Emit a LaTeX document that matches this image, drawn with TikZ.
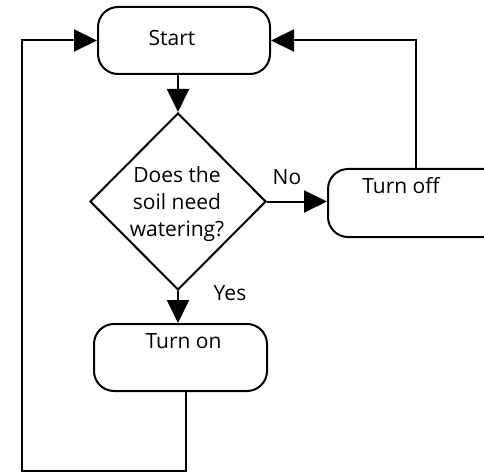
\documentclass[tikz,border=0pt]{standalone}
\usepackage{fontspec}
\setmainfont{Open Sans}
\usetikzlibrary{arrows.meta,shapes.geometric}
\begin{document}
\begin{tikzpicture}[x=1pt,y=-1pt,
  font=\fontsize{21}{27}\selectfont,
  line width=2pt,
  box/.style={draw, rounded corners=20pt, inner sep=0pt},
  dec/.style={draw, diamond, inner sep=0pt, minimum width=176pt, minimum height=177pt, align=center},
  arr/.style={-{Triangle[length=23pt,width=22pt]}},
  lbl/.style={inner sep=0pt}]
\clip (0,0) rectangle (484,473);
\node[box, minimum width=172pt, minimum height=67pt] (start) at (184,40.5) {};
\node[lbl] (starttxt) at (172,38) {Start};
\node[dec] (dia) at (178,201.5) {};
\node[lbl, align=center] (diatxt) at (177,204) {Does the\\soil need\\watering?};
\node[box, minimum width=192pt, minimum height=68pt] (off) at (424,203) {};
\node[lbl] (offtxt) at (401,186) {Turn off};
\node[box, minimum width=173pt, minimum height=67pt] (on) at (180.5,357.5) {};
\node[lbl] (ontxt) at (183.5,341) {Turn on};
\node[lbl] (no) at (287,177) {No};
\node[lbl] (yes) at (230,293) {Yes};
\coordinate (rt) at (416,40.5);
\coordinate (br) at (186,471);
\coordinate (bl) at (22,471);
\draw[arr] (start.south -| dia.north) -- (dia.north);
\draw[arr] (dia.east) -- (dia.east -| off.west);
\draw[arr] (dia.south) -- (dia.south |- on.north);
\draw[arr] (off.north -| rt) -- (rt) -- (start.east);
\draw[arr] (on.south -| br) -- (br) -- (bl) |- (start.west);
\end{tikzpicture}
\end{document}
